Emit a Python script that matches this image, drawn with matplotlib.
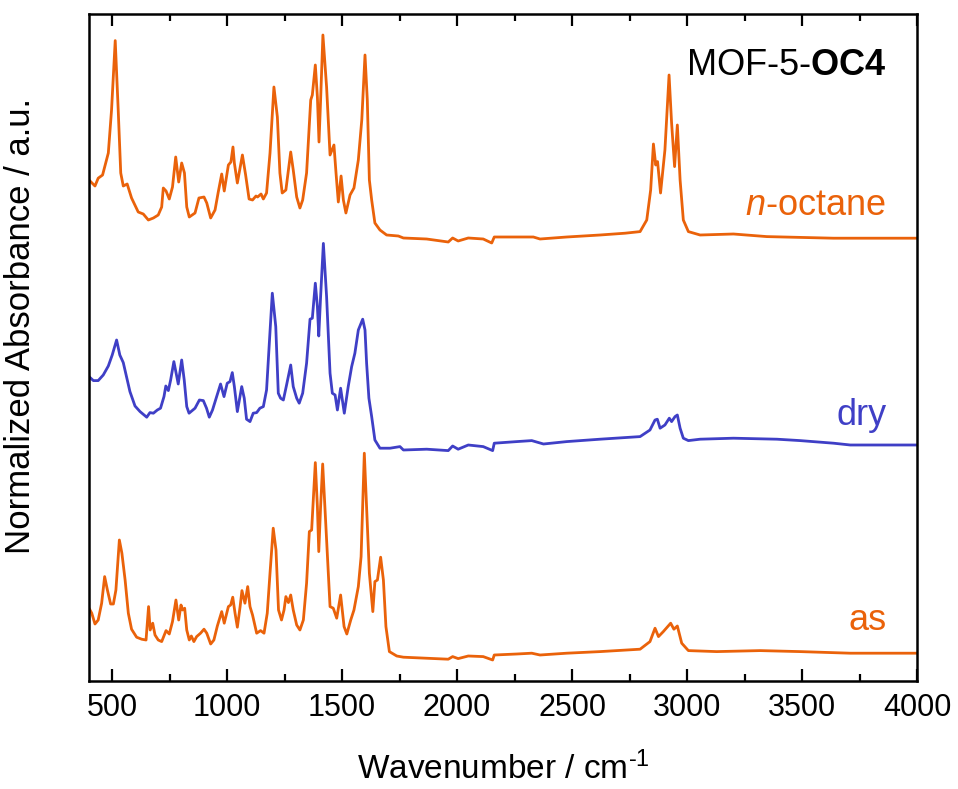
import matplotlib
matplotlib.use("Agg")
import matplotlib.pyplot as plt
from matplotlib.ticker import MultipleLocator

plt.rcParams["font.family"] = ["Liberation Sans", "DejaVu Sans"]
plt.rcParams["mathtext.fontset"] = "custom"
plt.rcParams["mathtext.rm"] = "Liberation Sans"
plt.rcParams["mathtext.it"] = "Liberation Sans:italic"
plt.rcParams["mathtext.bf"] = "Liberation Sans:bold"

# FTIR spectra of MOF-5-OC4, stacked (normalized absorbance + vertical offset)
wn_octane = [400, 426, 440, 459, 484, 498, 514, 527, 538, 549, 566, 585, 614, 636, 658, 680,
             701, 716, 723, 735, 749, 763, 777, 790, 803, 815, 825, 836, 861, 878, 900, 912,
             929, 948, 962, 977, 988, 1006, 1017, 1026, 1032, 1045, 1067, 1081, 1096, 1111,
             1126, 1133, 1148, 1158, 1172, 1187, 1204, 1219, 1230, 1240, 1256, 1277, 1288,
             1303, 1317, 1329, 1346, 1364, 1371, 1384, 1393, 1400, 1407, 1417, 1433, 1448,
             1465, 1474, 1484, 1496, 1506, 1517, 1535, 1552, 1571, 1586, 1600, 1610, 1619,
             1629, 1643, 1665, 1694, 1745, 1767, 1868, 1962, 1981, 2005, 2049, 2114, 2151,
             2162, 2260, 2332, 2361, 2477, 2622, 2731, 2796, 2825, 2842, 2854, 2864, 2872,
             2885, 2904, 2922, 2933, 2946, 2958, 2970, 2984, 3006, 3057, 3202, 3347, 3637, 4000]
abs_octane = [2.505, 2.475, 2.514, 2.530, 2.640, 2.855, 3.202, 2.855, 2.540, 2.475, 2.485, 2.415,
              2.345, 2.335, 2.305, 2.315, 2.330, 2.370, 2.465, 2.450, 2.410, 2.470, 2.620, 2.495,
              2.590, 2.540, 2.370, 2.320, 2.340, 2.415, 2.420, 2.390, 2.315, 2.355, 2.445, 2.535,
              2.450, 2.580, 2.595, 2.670, 2.590, 2.490, 2.630, 2.530, 2.410, 2.405, 2.425, 2.420,
              2.435, 2.410, 2.440, 2.640, 2.970, 2.820, 2.540, 2.440, 2.455, 2.645, 2.555, 2.420,
              2.365, 2.405, 2.540, 2.905, 2.930, 3.080, 2.920, 2.695, 2.905, 3.230, 2.970, 2.630,
              2.680, 2.540, 2.395, 2.525, 2.405, 2.340, 2.430, 2.465, 2.605, 2.805, 3.130, 2.905,
              2.505, 2.405, 2.290, 2.255, 2.230, 2.225, 2.215, 2.210, 2.195, 2.215, 2.200, 2.215,
              2.210, 2.190, 2.220, 2.220, 2.220, 2.210, 2.220, 2.230, 2.239, 2.247, 2.305, 2.455,
              2.685, 2.580, 2.597, 2.440, 2.655, 3.030, 2.790, 2.572, 2.780, 2.505, 2.305, 2.247,
              2.230, 2.235, 2.222, 2.214, 2.214]

wn_dry = [400, 419, 440, 462, 484, 501, 520, 534, 549, 563, 578, 600, 622, 651, 665, 680, 697,
          711, 726, 734, 745, 755, 769, 788, 803, 814, 825, 835, 861, 880, 897, 911, 923, 937,
          955, 972, 987, 1001, 1013, 1023, 1032, 1045, 1064, 1075, 1085, 1100, 1114, 1129, 1143,
          1158, 1172, 1184, 1197, 1212, 1223, 1233, 1245, 1259, 1277, 1288, 1303, 1314, 1329,
          1346, 1361, 1371, 1384, 1393, 1399, 1407, 1419, 1433, 1448, 1458, 1470, 1480, 1494,
          1510, 1527, 1542, 1556, 1571, 1590, 1600, 1607, 1617, 1629, 1643, 1665, 1709, 1752,
          1767, 1868, 1962, 1981, 2005, 2049, 2114, 2155, 2162, 2260, 2325, 2376, 2477, 2622,
          2796, 2839, 2861, 2871, 2883, 2904, 2923, 2933, 2948, 2958, 2970, 2984, 3006, 3057,
          3202, 3391, 3492, 3637, 3710, 4000]
abs_dry = [1.522, 1.502, 1.502, 1.530, 1.575, 1.630, 1.705, 1.630, 1.592, 1.522, 1.447, 1.375,
           1.347, 1.319, 1.342, 1.339, 1.355, 1.364, 1.422, 1.475, 1.452, 1.505, 1.597, 1.485,
           1.605, 1.505, 1.372, 1.339, 1.364, 1.405, 1.402, 1.364, 1.319, 1.355, 1.422, 1.485,
           1.422, 1.489, 1.497, 1.542, 1.472, 1.347, 1.472, 1.414, 1.309, 1.297, 1.339, 1.342,
           1.364, 1.372, 1.455, 1.689, 1.939, 1.772, 1.439, 1.414, 1.405, 1.480, 1.580, 1.472,
           1.414, 1.389, 1.439, 1.589, 1.809, 1.814, 1.989, 1.872, 1.725, 1.922, 2.188, 1.922,
           1.539, 1.439, 1.430, 1.355, 1.464, 1.339, 1.472, 1.572, 1.639, 1.755, 1.809, 1.755,
           1.589, 1.414, 1.322, 1.205, 1.164, 1.164, 1.172, 1.155, 1.159, 1.152, 1.175, 1.159,
           1.180, 1.172, 1.152, 1.189, 1.197, 1.202, 1.185, 1.197, 1.209, 1.222, 1.255, 1.305,
           1.309, 1.264, 1.280, 1.314, 1.297, 1.322, 1.330, 1.264, 1.214, 1.202, 1.209, 1.214,
           1.209, 1.202, 1.189, 1.180, 1.180]

wn_as = [400, 412, 426, 440, 455, 468, 480, 494, 506, 517, 532, 543, 557, 571, 585, 607, 629,
         648, 659, 666, 677, 687, 701, 716, 735, 749, 763, 778, 790, 800, 807, 816, 825, 836,
         845, 856, 868, 885, 900, 912, 929, 943, 958, 977, 988, 1006, 1016, 1025, 1035, 1045,
         1057, 1065, 1078, 1090, 1100, 1111, 1129, 1146, 1161, 1175, 1187, 1201, 1213, 1224,
         1237, 1248, 1256, 1267, 1277, 1288, 1303, 1317, 1332, 1346, 1358, 1368, 1384, 1393,
         1399, 1407, 1416, 1433, 1448, 1462, 1477, 1494, 1509, 1521, 1538, 1552, 1571, 1583,
         1597, 1607, 1619, 1634, 1643, 1654, 1668, 1680, 1691, 1706, 1738, 1767, 1868, 1962,
         1981, 2005, 2049, 2114, 2155, 2162, 2260, 2325, 2361, 2477, 2622, 2796, 2839, 2861,
         2876, 2897, 2929, 2943, 2958, 2977, 3006, 3129, 3318, 3492, 3710, 4000]
abs_as = [0.364, 0.339, 0.285, 0.305, 0.389, 0.522, 0.455, 0.385, 0.385, 0.455, 0.705, 0.639,
          0.505, 0.339, 0.259, 0.219, 0.209, 0.205, 0.372, 0.255, 0.289, 0.230, 0.205, 0.197,
          0.252, 0.235, 0.297, 0.405, 0.305, 0.380, 0.355, 0.364, 0.255, 0.205, 0.225, 0.197,
          0.222, 0.239, 0.259, 0.239, 0.185, 0.205, 0.275, 0.347, 0.289, 0.372, 0.380, 0.419,
          0.339, 0.269, 0.372, 0.452, 0.389, 0.472, 0.372, 0.330, 0.239, 0.252, 0.239, 0.339,
          0.539, 0.764, 0.655, 0.355, 0.305, 0.355, 0.422, 0.392, 0.430, 0.355, 0.280, 0.255,
          0.305, 0.489, 0.747, 0.755, 1.092, 0.872, 0.647, 0.872, 1.085, 0.705, 0.372, 0.364,
          0.314, 0.430, 0.272, 0.235, 0.305, 0.355, 0.472, 0.622, 1.139, 0.872, 0.539, 0.347,
          0.497, 0.505, 0.619, 0.505, 0.272, 0.147, 0.125, 0.119, 0.114, 0.109, 0.122, 0.112,
          0.125, 0.122, 0.105, 0.130, 0.135, 0.139, 0.130, 0.139, 0.147, 0.159, 0.197, 0.264,
          0.222, 0.247, 0.289, 0.259, 0.275, 0.189, 0.152, 0.147, 0.152, 0.147, 0.139, 0.139]

series_labels = [r"$\mathit{n}$-octane", "dry", "as"]
label_levels = [2.33, 1.28, 0.255]
ORANGE = "#EA620A"
BLUE = "#3F3FC6"

fig = plt.figure(figsize=(9.58, 7.89), dpi=100)
ax = fig.add_axes([89 / 958, 108 / 789, 828 / 958, 667 / 789])

line_kw = dict(lw=2.0, solid_joinstyle="round", solid_capstyle="round")
ax.plot(wn_octane, abs_octane, color=ORANGE, **line_kw)
ax.plot(wn_dry, abs_dry, color=BLUE, **line_kw)
ax.plot(wn_as, abs_as, color=ORANGE, **line_kw)

ax.set_xlim(400, 4000)
ax.set_ylim(0, 3.335)
ax.xaxis.set_major_locator(MultipleLocator(500))
ax.xaxis.set_minor_locator(MultipleLocator(250))
ax.set_yticks([])
ax.tick_params(axis="x", which="both", direction="in", top=True, bottom=True,
               width=1.6, labelsize=22, pad=9)
ax.tick_params(axis="x", which="major", length=8.5)
ax.tick_params(axis="x", which="minor", length=5)
for sp in ax.spines.values():
    sp.set_linewidth(1.8)

ax.set_xlabel("Wavenumber / cm$^{\\mathregular{\u2010 1}}$", fontsize=24, labelpad=20)
ax.set_ylabel("Normalized Absorbance / a.u.", fontsize=25)
ax.yaxis.set_label_coords(-0.063, 0.532)

label_x = 3867
ax.text(label_x, 3.03, r"MOF-5-$\mathbf{OC4}$", fontsize=26, ha="right", va="baseline",
        color="black")
for text, level, col in zip(series_labels, label_levels, [ORANGE, BLUE, ORANGE]):
    ax.text(label_x, level, text, fontsize=26, ha="right", va="baseline", color=col)

fig.savefig("out.png", dpi=100)
